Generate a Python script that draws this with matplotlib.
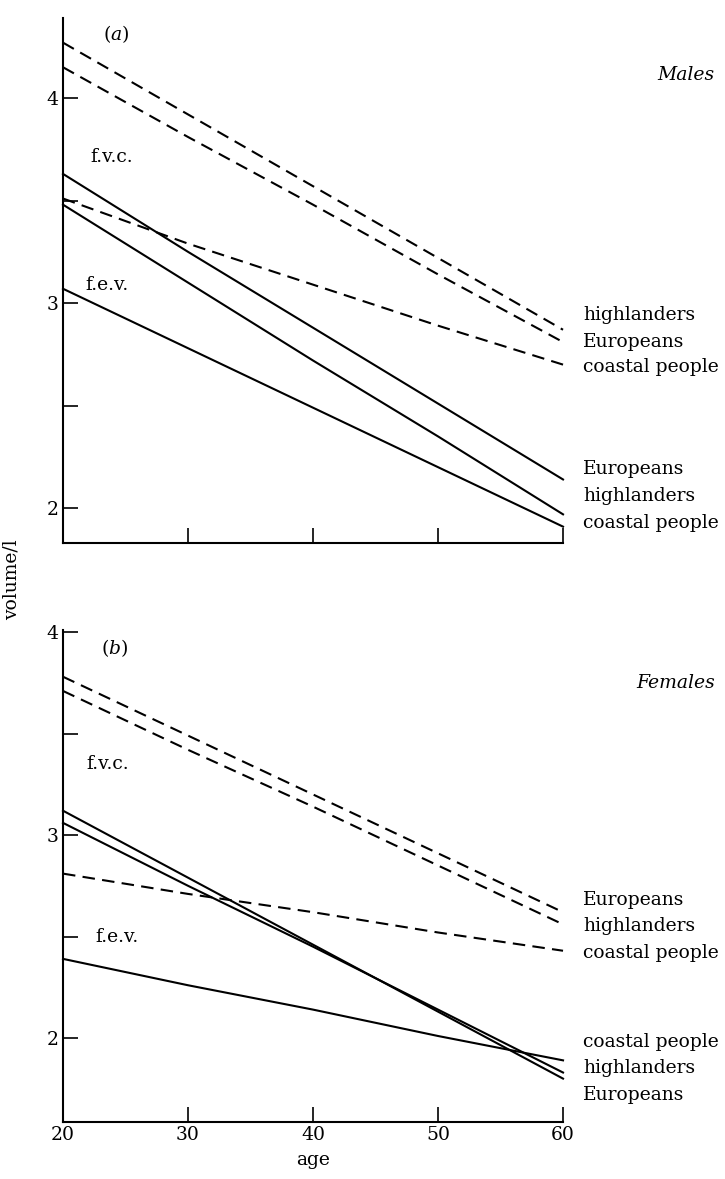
import numpy as np
from matplotlib import pyplot as plt
from matplotlib.ticker import FixedLocator

plt.rcParams['font.family'] = ['DejaVu Serif']
plt.rcParams['mathtext.fontset'] = 'dejavuserif'

ages = [20, 30, 40, 50, 60]

# males (a): f.v.c. dashed, f.e.v. solid
m_fvc_high = [4.27, 3.92, 3.57, 3.22, 2.87]
m_fvc_eur = [4.15, 3.81, 3.48, 3.14, 2.81]
m_fvc_coast = [3.51, 3.29, 3.09, 2.89, 2.70]
m_fev_eur = [3.63, 3.25, 2.88, 2.51, 2.14]
m_fev_high = [3.48, 3.10, 2.72, 2.35, 1.97]
m_fev_coast = [3.07, 2.78, 2.49, 2.20, 1.91]

# females (b)
f_fvc_eur = [3.78, 3.49, 3.20, 2.91, 2.62]
f_fvc_high = [3.71, 3.42, 3.14, 2.85, 2.56]
f_fvc_coast = [2.81, 2.71, 2.62, 2.52, 2.43]
f_fev_eur = [3.12, 2.79, 2.46, 2.13, 1.80]
f_fev_high = [3.06, 2.75, 2.45, 2.14, 1.83]
f_fev_coast = [2.39, 2.26, 2.14, 2.01, 1.89]

m_dash_labels = ['highlanders', 'Europeans', 'coastal people']
m_solid_labels = ['Europeans', 'highlanders', 'coastal people']
f_dash_labels = ['Europeans', 'highlanders', 'coastal people']
f_solid_labels = ['coastal people', 'highlanders', 'Europeans']

FS = 13.5
DASH = (6, 3.5)


def setup(ax, ylo, yhi, show_x):
    ax.set_xlim(20, 60)
    ax.set_ylim(ylo, yhi)
    for s in ['top', 'right']:
        ax.spines[s].set_visible(False)
    for s in ['left', 'bottom']:
        ax.spines[s].set_linewidth(1.5)
    ax.xaxis.set_major_locator(FixedLocator([20, 30, 40, 50, 60]))
    ax.yaxis.set_major_locator(FixedLocator([2, 3, 4]))
    ax.yaxis.set_minor_locator(FixedLocator([2.5, 3.5]))
    ax.tick_params(which='both', direction='in', length=11, width=1.2,
                   labelsize=FS, pad=3)
    ax.tick_params(axis='x', labelbottom=show_x)


def main():
    fig = plt.figure(figsize=(7.25, 11.79), dpi=100)
    ax1 = fig.add_axes([0.0869, 0.5394, 0.6897, 0.4453])
    ax2 = fig.add_axes([0.0869, 0.0483, 0.6897, 0.4173])

    setup(ax1, 1.83, 4.39, False)
    setup(ax2, 1.586, 4.01, True)

    for ys in [m_fvc_high, m_fvc_eur, m_fvc_coast]:
        ax1.plot(ages, ys, color='black', lw=1.5, dashes=DASH, clip_on=False)
    for ys in [m_fev_eur, m_fev_high, m_fev_coast]:
        ax1.plot(ages, ys, color='black', lw=1.5, clip_on=False)
    for ys in [f_fvc_eur, f_fvc_high, f_fvc_coast]:
        ax2.plot(ages, ys, color='black', lw=1.5, dashes=DASH, clip_on=False)
    for ys in [f_fev_eur, f_fev_high, f_fev_coast]:
        ax2.plot(ages, ys, color='black', lw=1.5, clip_on=False)

    # right-hand labels
    for lab, y in zip(m_dash_labels, [2.94, 2.81, 2.69]):
        ax1.text(61.6, y, lab, fontsize=FS, va='center', clip_on=False)
    for lab, y in zip(m_solid_labels, [2.19, 2.06, 1.93]):
        ax1.text(61.6, y, lab, fontsize=FS, va='center', clip_on=False)
    for lab, y in zip(f_dash_labels, [2.68, 2.55, 2.42]):
        ax2.text(61.6, y, lab, fontsize=FS, va='center', clip_on=False)
    for lab, y in zip(f_solid_labels, [1.98, 1.85, 1.72]):
        ax2.text(61.6, y, lab, fontsize=FS, va='center', clip_on=False)

    ax1.text(22.2, 3.71, 'f.v.c.', fontsize=FS, va='center')
    ax1.text(21.8, 3.09, 'f.e.v.', fontsize=FS, va='center')
    ax2.text(21.9, 3.35, 'f.v.c.', fontsize=FS, va='center')
    ax2.text(22.6, 2.50, 'f.e.v.', fontsize=FS, va='center')

    ax1.text(23.2, 4.31, '($a$)', fontsize=FS, va='center')
    ax2.text(23.0, 3.92, '($b$)', fontsize=FS, va='center')

    ax1.text(69.8, 4.11, 'Males', fontsize=FS, style='italic',
             ha='center', va='center', clip_on=False)
    ax2.text(69.0, 3.75, 'Females', fontsize=FS, style='italic',
             ha='center', va='center', clip_on=False)

    ax2.set_xlabel('age', fontsize=FS, labelpad=5)
    fig.text(12 / 725, 1 - 580 / 1179, 'volume/l', fontsize=FS,
             rotation=90, ha='center', va='center')

    fig.savefig('out.png', dpi=100)


if __name__ == "__main__":
    main()
